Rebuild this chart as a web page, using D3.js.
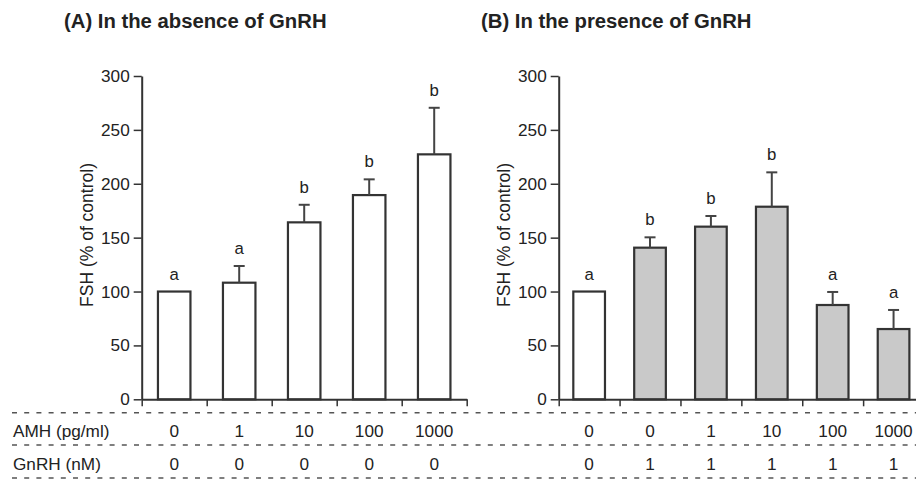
<!DOCTYPE html>
<html>
<head>
<meta charset="utf-8">
<script src="https://cdn.jsdelivr.net/npm/d3@7"></script>
<style>
  html, body { margin: 0; padding: 0; background: #fff; }
  svg { display: block; }
  text { font-family: "Liberation Sans", Arial, sans-serif; fill: #222; }
</style>
</head>
<body>
<svg id="chart" width="916" height="482"></svg>
<script>
// ---- data ----
const titleA = "(A) In the absence of GnRH";
const titleB = "(B) In the presence of GnRH";
const yLabel = "FSH (% of control)";
const yTicks = [0, 50, 100, 150, 200, 250, 300];
const rowLabels = ["AMH (pg/ml)", "GnRH (nM)"];

const amhA = ["0", "1", "10", "100", "1000"];
const gnrhA = ["0", "0", "0", "0", "0"];
const meanA = [100, 108.2, 164.2, 189.5, 227.3];
const semA = [0, 15.5, 16.3, 14.6, 43.2];
const lettersA = ["a", "a", "b", "b", "b"];
const groupA = ["control", "control", "control", "control", "control"];

const amhB = ["0", "0", "1", "10", "100", "1000"];
const gnrhB = ["0", "1", "1", "1", "1", "1"];
const meanB = [100, 140.7, 160.2, 178.7, 87.5, 65.2];
const semB = [0, 9.6, 9.9, 31.9, 12.1, 17.7];
const lettersB = ["a", "b", "b", "b", "a", "a"];
const groupB = ["control", "gnrh", "gnrh", "gnrh", "gnrh", "gnrh"];

// ---- styles / layout ----
const fills = { control: "#ffffff", gnrh: "#c9c9c9" };
const ink = "#333";
const svg = d3.select("#chart");
const yRange = [399.3, 76];
const y = d3.scaleLinear().domain([0, 300]).range(yRange);
const rowY = [436.8, 469.8];
const dashY = [412.7, 445, 478];
const fs = "17.2px";

function panel(opts) {
  const n = opts.mean.length;
  const idx = d3.range(n);
  const xb = d3.scaleBand().domain(idx).range(opts.xr)
    .paddingInner(opts.pad).paddingOuter(opts.pad / 2);
  const xl = d3.scaleLinear().domain([0, n]).range(opts.xr);
  const g = svg.append("g");

  // title
  g.append("text")
    .attr("x", opts.titleX).attr("y", 27.7)
    .style("font-size", "20.3px").style("font-weight", "bold")
    .text(opts.title);

  // bars
  g.selectAll("rect.bar").data(idx).join("rect")
    .attr("class", "bar")
    .attr("x", i => xb(i))
    .attr("width", xb.bandwidth())
    .attr("y", i => y(opts.mean[i]))
    .attr("height", i => y(0) - y(opts.mean[i]))
    .attr("fill", i => fills[opts.group[i]])
    .attr("stroke", ink).attr("stroke-width", 2.2);

  // error bars (upper only)
  const withErr = idx.filter(i => opts.sem[i] > 0);
  g.selectAll("line.err").data(withErr).join("line")
    .attr("x1", i => xb(i) + xb.bandwidth() / 2)
    .attr("x2", i => xb(i) + xb.bandwidth() / 2)
    .attr("y1", i => y(opts.mean[i]))
    .attr("y2", i => y(opts.mean[i] + opts.sem[i]))
    .attr("stroke", "#444").attr("stroke-width", 2);
  g.selectAll("line.cap").data(withErr).join("line")
    .attr("x1", i => xb(i) + xb.bandwidth() / 2 - 5.5)
    .attr("x2", i => xb(i) + xb.bandwidth() / 2 + 5.5)
    .attr("y1", i => y(opts.mean[i] + opts.sem[i]))
    .attr("y2", i => y(opts.mean[i] + opts.sem[i]))
    .attr("stroke", "#444").attr("stroke-width", 2);

  // significance letters
  g.selectAll("text.letter").data(idx).join("text")
    .attr("x", i => xb(i) + xb.bandwidth() / 2)
    .attr("y", i => y(opts.mean[i] + opts.sem[i]) - 12)
    .attr("text-anchor", "middle")
    .style("font-size", "16.8px")
    .text(i => opts.letters[i]);

  // y axis
  const ya = g.append("g").attr("transform", `translate(${opts.xr[0]},0)`)
    .call(d3.axisLeft(y).tickValues(yTicks).tickSize(8).tickPadding(4).tickSizeOuter(0));
  ya.select(".domain").attr("stroke", ink).attr("stroke-width", 2);
  ya.selectAll(".tick line").attr("stroke", ink).attr("stroke-width", 1.5);
  ya.selectAll(".tick text").style("font-size", fs).style("font-family", '"Liberation Sans", Arial, sans-serif').attr("fill", "#222");

  // x axis (ticks at band boundaries)
  const xa = g.append("g").attr("transform", `translate(0,${y(0)})`)
    .call(d3.axisBottom(xl).tickValues(d3.range(n + 1)).tickSize(7).tickSizeOuter(0).tickFormat(""));
  xa.select(".domain").attr("stroke", ink).attr("stroke-width", 2);
  xa.selectAll(".tick line").attr("stroke", ink).attr("stroke-width", 1.5);

  // y label
  g.append("text")
    .attr("transform", `translate(${opts.xr[0] - 48.5},${235}) rotate(-90)`)
    .attr("text-anchor", "middle")
    .style("font-size", "17.5px")
    .text(yLabel);

  // table values
  [opts.amh, opts.gnrh].forEach((row, r) => {
    g.selectAll(null).data(idx).join("text")
      .attr("x", i => xb(i) + xb.bandwidth() / 2)
      .attr("y", rowY[r])
      .attr("text-anchor", "middle")
      .style("font-size", fs)
      .text(i => row[i]);
  });
}

// dashed separator lines
svg.selectAll("line.dash").data(dashY).join("line")
  .attr("x1", 12).attr("x2", 916)
  .attr("y1", d => d).attr("y2", d => d)
  .attr("stroke", "#555").attr("stroke-width", 1.5)
  .attr("stroke-dasharray", "5,7.2");

// row labels
svg.selectAll("text.row").data(rowLabels).join("text")
  .attr("x", 13).attr("y", (d, i) => rowY[i])
  .style("font-size", fs)
  .text(d => d);

panel({ title: titleA, titleX: 64, xr: [141.7, 466.7], pad: 0.5,
        mean: meanA, sem: semA, letters: lettersA, group: groupA, amh: amhA, gnrh: gnrhA });
panel({ title: titleB, titleX: 481, xr: [558.7, 924], pad: 0.48,
        mean: meanB, sem: semB, letters: lettersB, group: groupB, amh: amhB, gnrh: gnrhB });
</script>
</body>
</html>
